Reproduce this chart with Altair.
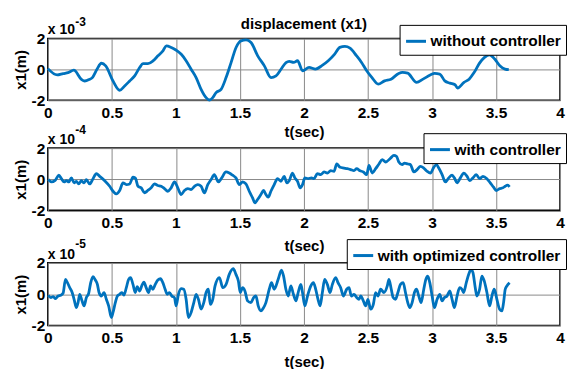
import altair as alt
import pandas as pd

# ---------------- data (values in units of the axis multiplier) ----------------
t1 = [0.00, 0.073, 0.12, 0.158, 0.203, 0.262, 0.288, 0.322, 0.348, 0.384, 0.418, 0.452,
      0.509, 0.561, 0.60, 0.639, 0.678, 0.717, 0.743, 0.782, 0.821, 0.86, 0.899, 0.925,
      0.964, 1.003, 1.042, 1.081, 1.119, 1.158, 1.197, 1.236, 1.262, 1.288, 1.314, 1.353,
      1.392, 1.431, 1.47, 1.509, 1.548, 1.587, 1.639, 1.691, 1.743, 1.782, 1.821, 1.86,
      1.885, 1.92, 1.95, 1.99, 2.04, 2.09, 2.14, 2.19, 2.24, 2.28, 2.32, 2.36, 2.41, 2.45,
      2.49, 2.53, 2.58, 2.63, 2.68, 2.74, 2.77, 2.81, 2.88, 2.93, 2.99, 3.02, 3.06, 3.10,
      3.14, 3.18, 3.20, 3.25, 3.29, 3.33, 3.37, 3.41, 3.45, 3.49, 3.53, 3.57, 3.60]
v1 = [0.05, -0.36, -0.27, -0.21, -0.05, -0.64, -0.75, -0.66, -0.53, 0.01, 0.40, 0.23,
      -0.75, -1.35, -1.07, -0.75, -0.42, 0.12, 0.38, 0.38, 0.55, 0.88, 1.20, 1.52,
      1.42, 1.24, 0.98, 0.55, 0.01, -0.53, -1.29, -1.83, -1.98, -1.83, -1.50, -1.29,
      -0.53, 0.44, 1.42, 1.85, 1.91, 1.74, 0.88, 0.23, -0.53, -0.42, 0.01, 0.44,
      0.52, 0.45, 0.56, -0.09, 0.13, 0.02, 0.24, 0.56, 0.99, 1.43, 1.49, 1.38, 0.89, 0.45,
      -0.09, -0.52, -0.95, -0.74, -0.63, -0.26, -0.19, -0.24, -0.84, -0.63, -0.35, -0.26, -0.30, -0.74,
      -0.89, -0.99, -1.21, -0.84, -0.63, -0.19, 0.39, 0.78, 0.95, 0.67, 0.24, 0.02, -0.02]

t2 = [0.003, 0.029, 0.055, 0.086, 0.106, 0.127, 0.145, 0.164, 0.184, 0.205, 0.223, 0.241,
      0.262, 0.283, 0.301, 0.327, 0.353, 0.379, 0.405, 0.444, 0.483, 0.509, 0.535, 0.561,
      0.587, 0.613, 0.639, 0.665, 0.683, 0.704, 0.729, 0.755, 0.781, 0.807, 0.833, 0.859,
      0.885, 0.911, 0.937, 0.963, 0.989, 1.015, 1.041, 1.067, 1.093, 1.119, 1.145, 1.171,
      1.197, 1.223, 1.249, 1.275, 1.300, 1.332, 1.358, 1.391, 1.417, 1.443, 1.469, 1.495,
      1.521, 1.547, 1.573, 1.599, 1.617, 1.638, 1.664, 1.685, 1.703, 1.721, 1.742, 1.768,
      1.794, 1.820, 1.846, 1.867, 1.885, 1.911, 1.929, 1.950, 1.971, 1.989, 2.007, 2.033,
      2.059, 2.079, 2.105, 2.131, 2.157, 2.183, 2.209, 2.235, 2.256, 2.282, 2.313, 2.339,
      2.365, 2.391, 2.412, 2.438, 2.464, 2.490, 2.508, 2.534, 2.560, 2.586, 2.612, 2.638,
      2.677, 2.702, 2.723, 2.741, 2.767, 2.786, 2.811, 2.832, 2.858, 2.884, 2.910, 2.936,
      2.962, 2.988, 3.014, 3.035, 3.053, 3.079, 3.105, 3.131, 3.157, 3.175, 3.196, 3.222,
      3.248, 3.274, 3.294, 3.320, 3.346, 3.372, 3.398, 3.429, 3.455, 3.481, 3.502, 3.528,
      3.554, 3.572, 3.590, 3.606]
v2 = [-0.02, -0.17, -0.09, 0.26, 0.04, -0.17, -0.09, -0.17, 0.09, -0.23, -0.13, -0.30,
      -0.09, -0.23, -0.02, -0.30, 0.04, 0.36, 0.19, -0.09, -0.45, -0.77, -0.94, -0.72,
      -0.23, -0.34, -0.30, 0.13, 0.09, -0.45, -0.55, -0.87, -0.72, -0.55, -0.30, -0.40,
      -0.45, -0.60, -0.77, -0.55, -0.17, -0.55, -0.98, -0.72, -0.60, -0.66, -0.45, -0.34,
      -0.45, -0.87, -0.34, -0.02, 0.30, -0.17, 0.09, 0.47, 0.40, 0.26, 0.09, -0.34,
      -0.17, -0.30, -0.77, -1.19, -1.51, -1.30, -0.98, -0.72, -0.98, -1.15, -0.77, -0.34,
      0.04, -0.13, 0.19, -0.23, -0.09, 0.40, 0.09, -0.13, -0.55, -0.34, 0.09, 0.04,
      0.09, 0.04, 0.36, 0.30, 0.47, 0.40, 0.55, 0.51, 0.98, 0.77, 0.72, 0.68,
      0.62, 0.55, 0.68, 0.55, 0.47, 0.30, 0.89, 0.40, 0.68, 0.98, 1.26, 1.11,
      1.36, 1.53, 1.47, 1.11, 0.94, 1.04, 0.98, 0.94, 0.47, 0.62, 0.83, 0.72,
      0.51, 0.40, 0.77, 0.94, 0.72, 0.30, -0.17, 0.09, 0.26, 0.09, -0.23, 0.09,
      0.40, 0.19, -0.09, 0.09, 0.30, 0.04, 0.19, 0.04, -0.23, -0.51, -0.72, -0.60,
      -0.55, -0.45, -0.38, -0.49]

t3 = [0.003, 0.023, 0.042, 0.060, 0.080, 0.101, 0.119, 0.138, 0.153, 0.171, 0.190, 0.205,
      0.223, 0.236, 0.249, 0.267, 0.283, 0.301, 0.319, 0.335, 0.353, 0.371, 0.387, 0.400,
      0.418, 0.439, 0.457, 0.475, 0.496, 0.509, 0.527, 0.543, 0.561, 0.579, 0.594, 0.613,
      0.631, 0.646, 0.665, 0.683, 0.698, 0.717, 0.735, 0.750, 0.768, 0.787, 0.802, 0.820,
      0.839, 0.859, 0.880, 0.898, 0.916, 0.932, 0.950, 0.968, 0.989, 1.002, 1.020, 1.041,
      1.062, 1.080, 1.098, 1.119, 1.140, 1.158, 1.176, 1.197, 1.218, 1.236, 1.254, 1.269,
      1.288, 1.306, 1.340, 1.366, 1.392, 1.417, 1.448, 1.469, 1.488, 1.503, 1.521, 1.539,
      1.560, 1.586, 1.607, 1.625, 1.643, 1.664, 1.685, 1.703, 1.729, 1.747, 1.768, 1.799,
      1.825, 1.841, 1.859, 1.877, 1.898, 1.918, 1.937, 1.955, 1.976, 1.989, 2.007, 2.028,
      2.054, 2.074, 2.092, 2.110, 2.126, 2.144, 2.162, 2.183, 2.204, 2.222, 2.248, 2.266,
      2.287, 2.308, 2.334, 2.352, 2.370, 2.391, 2.412, 2.430, 2.443, 2.464, 2.482, 2.500,
      2.521, 2.542, 2.560, 2.578, 2.599, 2.625, 2.651, 2.664, 2.682, 2.697, 2.715, 2.734,
      2.754, 2.775, 2.793, 2.811, 2.827, 2.845, 2.863, 2.879, 2.897, 2.915, 2.936, 2.952,
      2.967, 2.983, 3.001, 3.019, 3.040, 3.061, 3.079, 3.097, 3.118, 3.139, 3.157, 3.175,
      3.196, 3.216, 3.234, 3.247, 3.268, 3.287, 3.305, 3.320, 3.338, 3.351, 3.372, 3.390,
      3.408, 3.429, 3.450, 3.468, 3.486, 3.507, 3.528, 3.546, 3.559, 3.572, 3.585, 3.606]
v3 = [-0.07, -0.22, -0.16, -0.29, -0.12, -0.07, 0.05, 0.94, 0.73, 0.41, 0.10, -0.33,
      -0.86, -0.54, -0.01, -0.43, -0.75, -0.22, 0.05, 0.73, 1.11, 0.90, 0.62, 0.10,
      -0.12, 0.10, -0.33, -0.75, -1.49, -1.17, -0.54, -0.12, -0.01, 0.10, -0.07, 0.41,
      0.94, 1.05, 0.62, 0.10, 0.48, 0.20, 0.56, 0.77, 0.41, 0.10, 0.52, 0.31,
      0.62, 0.90, 0.98, 0.73, 0.31, -0.01, 0.10, -0.12, -0.22, -0.75, -0.01, 0.35,
      0.31, -0.33, -1.49, -1.17, -0.54, -0.01, -0.33, -0.96, -0.54, 0.10, 0.31, -0.65,
      -0.33, 0.52, 1.05, 0.41, 0.62, 1.26, 1.62, 1.26, 0.84, 0.10, 0.41, 0.20,
      -0.43, -0.54, -0.22, -0.12, -0.75, -1.07, -0.86, -0.54, 0.31, 0.73, 0.31, 0.94,
      1.53, 1.15, 0.31, -0.12, 0.52, -0.01, -0.43, 0.10, 0.62, 0.10, -0.75, -0.12,
      0.52, 0.73, 0.31, -0.33, -0.75, 0.10, 0.94, 0.62, 0.10, 0.62, 1.05, 0.73,
      0.41, -0.12, 0.31, 0.41, -0.12, -0.01, -0.22, -0.33, -0.12, -0.43, -0.75, -0.33,
      -0.96, -0.65, 0.10, -0.12, 0.31, 0.10, 0.52, 0.94, 0.31, -0.22, -0.33, 0.10,
      0.62, 0.73, 0.10, -0.54, -0.86, -0.54, 0.10, 0.31, -0.12, -0.54, 0.31, 0.94,
      1.15, 0.73, -0.12, -0.86, -0.33, -0.01, -0.43, -0.22, -0.12, 0.20, -0.33, -0.86,
      -0.12, 0.41, 0.31, 0.10, 0.73, 1.26, 1.58, 1.37, 0.41, -0.12, 0.31, 1.15,
      0.84, 0.10, -0.75, -0.12, 0.31, -0.33, -0.96, -1.07, -0.54, 0.31, 0.52, 0.73]

series_names = ["without controller", "with controller", "with optimized controller"]
exponents = ["-3", "-4", "-5"]
x_ticks = [0, 0.5, 1, 1.5, 2, 2.5, 3, 3.5, 4]
y_ticks = [-2, 0, 2]
chart_title = "displacement (x1)"

FONT = "Liberation Sans"
BLUE = "#0072BD"
W = 514


def panel(t, v, name, exp, h, lx, ly, sup_y, base_y, xpad, title=None):
    df = pd.DataFrame({"t": t, "v": v, "series": name})
    line = alt.Chart(df).mark_line(
        strokeWidth=2.8, color=BLUE, interpolate="monotone"
    ).encode(
        x=alt.X("t:Q", scale=alt.Scale(domain=[0, 4], nice=False),
                axis=alt.Axis(values=x_ticks, title="t(sec)", labelExpr="'' + datum.value",
                              titlePadding=xpad, labelPadding=5)),
        y=alt.Y("v:Q", scale=alt.Scale(domain=[-2, 2], nice=False),
                axis=alt.Axis(values=y_ticks, title="x1(m)", labelExpr="'' + datum.value",
                              titlePadding=3, labelPadding=3)),
        color=alt.Color("series:N", scale=alt.Scale(range=[BLUE]),
                        legend=alt.Legend(
                            title=None, orient="none", legendX=lx, legendY=ly,
                            fillColor="white", strokeColor="black", padding=5,
                            symbolType="stroke", symbolSize=400, symbolStrokeWidth=3,
                            labelFont=FONT, labelFontSize=15.5, labelFontWeight="bold",
                            labelColor="black", labelOffset=3, labelLimit=400)),
    )
    one = pd.DataFrame({"k": [0]})
    ex = alt.Chart(one).mark_text(
        text="x 10", font=FONT, fontSize=14, fontWeight="bold", align="left",
        baseline="alphabetic", color="black"
    ).encode(x=alt.value(0), y=alt.value(base_y))
    sup = alt.Chart(one).mark_text(
        text=exp, font=FONT, fontSize=12, fontWeight="bold", align="left",
        baseline="alphabetic", color="black"
    ).encode(x=alt.value(27.5), y=alt.value(sup_y))
    layers = [line, ex, sup]
    if title:
        tt = alt.Chart(one).mark_text(
            text=title, font=FONT, fontSize=15, fontWeight="bold", align="center",
            baseline="alphabetic", color="black"
        ).encode(x=alt.value(W / 2), y=alt.value(-10))
        layers.append(tt)
    return alt.layer(*layers).properties(width=W, height=h)


p1 = panel(t1, v1, series_names[0], exponents[0], 62, 353, -13.7, -12.7, -4.7, 4, chart_title)
p2 = panel(t2, v2, series_names[1], exponents[1], 62.5, 377, -15, -13.7, -3.7, 8)
p3 = panel(t3, v3, series_names[2], exponents[2], 63, 300, -23.7, -14.7, -3.7, 9)

chart = alt.vconcat(p1, p2, p3, spacing=-18).resolve_scale(
    color="independent", x="independent", y="independent"
).resolve_legend(color="independent").properties(
    padding={"left": 12, "top": 14, "right": 0, "bottom": 0}
).configure_view(
    stroke="black", strokeWidth=1.6
).configure_axis(
    labelFont=FONT, labelFontSize=15.5, labelFontWeight="bold", labelColor="black",
    titleFont=FONT, titleFontSize=15, titleFontWeight="bold", titleColor="black",
    domain=False, ticks=False, grid=True, gridColor="#8a8a8a", gridWidth=1, gridOpacity=1,
    labelFlush=False, labelOverlap=False
)

chart.save("out.html", embed_options={"renderer": "svg", "actions": False})
